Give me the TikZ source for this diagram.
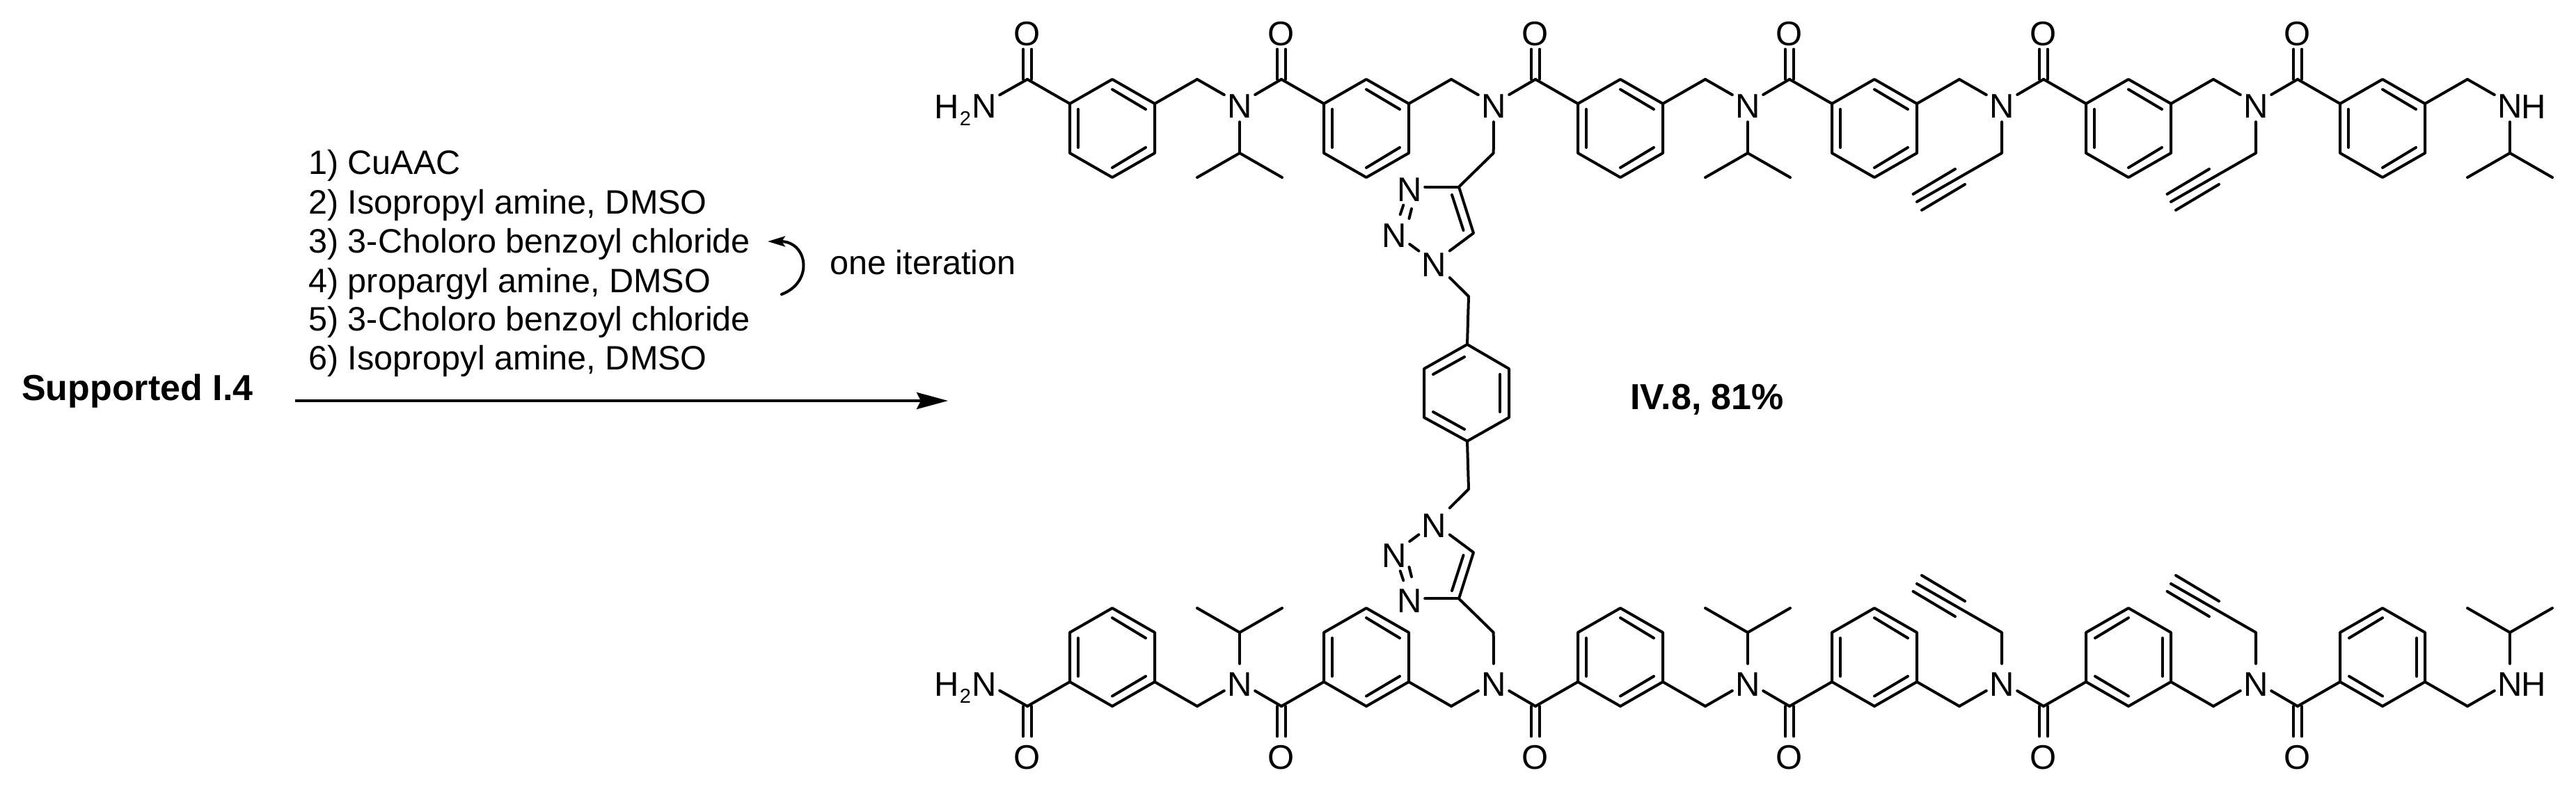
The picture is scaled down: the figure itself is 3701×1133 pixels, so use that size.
\documentclass[tikz,border=0pt]{standalone}
\usepackage{fontspec}
\setmainfont{Liberation Sans}
\usetikzlibrary{arrows.meta}
\tikzset{
  x=1pt,y=-1pt,
  bond/.style={line width=4pt,line cap=round,line join=round,black},
  ibond/.style={line width=4pt,line cap=round,black},
  atom/.style={rectangle,inner sep=0pt,minimum width=44pt,minimum height=52pt,text height=41pt,text depth=0pt,align=center,font=\fontsize{49}{49}\selectfont},
  txt/.style={anchor=base west,inner sep=0pt,font=\fontsize{48.6}{50}\selectfont},
  btxt/.style={anchor=base west,inner sep=0pt,font=\fontsize{52}{54}\selectfont\bfseries},
  lab/.style={anchor=base,inner sep=0pt,font=\fontsize{49}{49}\selectfont},
  sublab/.style={anchor=base,inner sep=0pt,font=\fontsize{29}{29}\selectfont},
}
% one repeat unit: #1 prefix, #2 ring top x, #3 +1/-1 pattern of ring double bonds
\newcommand{\repeatunit}[3]{%
  \coordinate (#1C) at (#2-122,114);
  \node[atom] (#1O) at (#2-122,44.5) {O};
  \coordinate (#1a) at (#2,114);
  \coordinate (#1b) at (#2+61,149);
  \coordinate (#1c) at (#2+61,220);
  \coordinate (#1d) at (#2,255);
  \coordinate (#1e) at (#2-61,220);
  \coordinate (#1f) at (#2-61,149);
  \coordinate (#1H) at (#2+122,114);
  \draw[bond] (#1a)--(#1b)--(#1c)--(#1d)--(#1e)--(#1f)--cycle;
  \draw[bond] (#1C)--(#1f) (#1b)--(#1H);
  \draw[bond,transform canvas={xshift=-6pt}] (#1O)--(#1C);
  \draw[bond,transform canvas={xshift=6pt}] (#1O)--(#1C);
  \draw[ibond] (#2,128.5)--(#2+#3*48,157);
  \draw[ibond] (#2-#3*49,157)--(#2-#3*49,212);
  \draw[ibond] (#2,241)--(#2+#3*48,212);
}
% amide or amine nitrogen with its CH2 bond: #1 prefix, #2 ring top x
\newcommand{\nitrogen}[2]{%
  \node[atom] (#1N) at (#2+183,149) {N};
  \draw[bond] (#1H)--(#1N);
}
% isopropyl on nitrogen
\newcommand{\isopropyl}[2]{%
  \coordinate (#1iC) at (#2+183,220);
  \coordinate (#1iA) at (#2+122,255);
  \coordinate (#1iB) at (#2+244,255);
  \draw[bond] (#1N)--(#1iC);
  \draw[bond] (#1iA)--(#1iC)--(#1iB);
}
% propargyl on nitrogen
\newcommand{\propargyl}[2]{%
  \coordinate (#1pC) at (#2+183,220);
  \coordinate (#1pE) at (#2+61,290);
  \coordinate (#1pL) at (#2+116,243);
  \coordinate (#1pM) at (#2+55.6,279);
  \coordinate (#1pR) at (#2+130,265);
  \coordinate (#1pS) at (#2+68,302);
  \draw[bond] (#1N)--(#1pC)--(#1pE);
  \draw[bond] (#1pL)--(#1pM);
  \draw[bond] (#1pR)--(#1pS);
}
% triazole arm on the second nitrogen
\newcommand{\triazole}[1]{%
  \coordinate (#1zA) at (2145.7,220);
  \coordinate (#1zC) at (2096,268.6);
  \coordinate (#1zD) at (2117,335);
  \node[atom] (#1zE) at (2025,268.6) {N};
  \node[atom] (#1zF) at (2003,334.5) {N};
  \node[atom] (#1zG) at (2060.6,377) {N};
  \coordinate (#1zH) at (2110,426);
  \coordinate (#1zP) at (2108,495);
  \draw[bond] (#1N)--(#1zA)--(#1zC)--(#1zD)--(#1zG);
  \draw[bond] (#1zC)--(#1zE);
  \draw[bond] (#1zE)--(#1zF);
  \draw[bond] (#1zF)--(#1zG);
  \draw[bond] (#1zG)--(#1zH)--(#1zP);
  \coordinate (#1zI) at (2086,280);
  \coordinate (#1zJ) at (2102.5,331);
  \coordinate (#1zK) at (2028,300);
  \coordinate (#1zL) at (2024.5,314);
  \draw[ibond] (#1zI)--(#1zJ);
  \draw[ibond] (#1zK)--(#1zL);
}
% a whole chain: #1 prefix, #2 and #3 double-bond pattern of the last two rings
\newcommand{\chain}[3]{%
  \repeatunit{#1u}{1598}{1}
  \repeatunit{#1v}{1963}{1}
  \repeatunit{#1w}{2328}{1}
  \repeatunit{#1x}{2693}{1}
  \repeatunit{#1y}{3058}{#2}
  \repeatunit{#1z}{3423}{#3}
  \nitrogen{#1u}{1598}
  \nitrogen{#1v}{1963}
  \nitrogen{#1w}{2328}
  \nitrogen{#1x}{2693}
  \nitrogen{#1y}{3058}
  \nitrogen{#1z}{3423}
  \draw[bond] (#1uN)--(#1vC);
  \draw[bond] (#1vN)--(#1wC);
  \draw[bond] (#1wN)--(#1xC);
  \draw[bond] (#1xN)--(#1yC);
  \draw[bond] (#1yN)--(#1zC);
  \node[atom] (#1amide) at (1414,149) {N};
  \draw[bond] (#1amide)--(#1uC);
  \isopropyl{#1u}{1598}
  \isopropyl{#1w}{2328}
  \isopropyl{#1z}{3423}
  \propargyl{#1x}{2693}
  \propargyl{#1y}{3058}
  \triazole{#1v}
}
\begin{document}
\begin{tikzpicture}
\useasboundingbox (0,0) rectangle (3701,1133);
% upper chain
\chain{t}{1}{1}
% lower chain, mirrored
\begin{scope}[yshift=-1129pt,yscale=-1]
\chain{b}{-1}{-1}
\end{scope}
% central benzene
\coordinate (pL1) at (2046,530);
\coordinate (pR1) at (2168,530);
\coordinate (pL2) at (2046,600);
\coordinate (pR2) at (2168,600);
\draw[bond] (tvzP)--(pR1)--(pR2)--(bvzP)--(pL2)--(pL1)--cycle;
\draw[ibond] (2059,538)--(2104,513);
\draw[ibond] (2059,592)--(2104,617);
\draw[ibond] (2155,538)--(2155,592);
% extra letters of the labels
\node[lab] (th) at (1360,170) {H};
\node[sublab] (t2) at (1387,180) {2};
\node[lab] (bh) at (1360,1000) {H};
\node[sublab] (b2) at (1387,1010) {2};
\node[lab] (tnh) at (3640.5,170) {H};
\node[lab] (bnh) at (3640.5,1000) {H};
% reaction text
\node[btxt] (sm) at (31,575.5) {Supported I.4};
\node[btxt] (prod) at (2342,588) {IV.8, 81\%};
\node[txt] (s1) at (443,250.5) {1) CuAAC};
\node[txt] (s2) at (443,307.5) {2) Isopropyl amine, DMSO};
\node[txt] (s3) at (443,363.5) {3) 3-Choloro benzoyl chloride};
\node[txt] (s4) at (443,420) {4) propargyl amine, DMSO};
\node[txt] (s5) at (443,475.5) {5) 3-Choloro benzoyl chloride};
\node[txt] (s6) at (443,531.5) {6) Isopropyl amine, DMSO};
\node[txt] (it) at (1192,394) {one iteration};
% arrows
\coordinate (ra) at (424,576);
\coordinate (rb) at (1362,576);
\draw[line width=4pt,-{Stealth[length=45pt,width=24pt,inset=6pt]}] (ra)--(rb);
\coordinate (ca) at (1123,423);
\coordinate (cb) at (1103,347);
\draw[line width=4pt,line cap=round,-{Stealth[length=25pt,width=15pt,inset=5pt]}] (ca) .. controls (1170,405) and (1160,347) .. (cb);
\end{tikzpicture}
\end{document}
